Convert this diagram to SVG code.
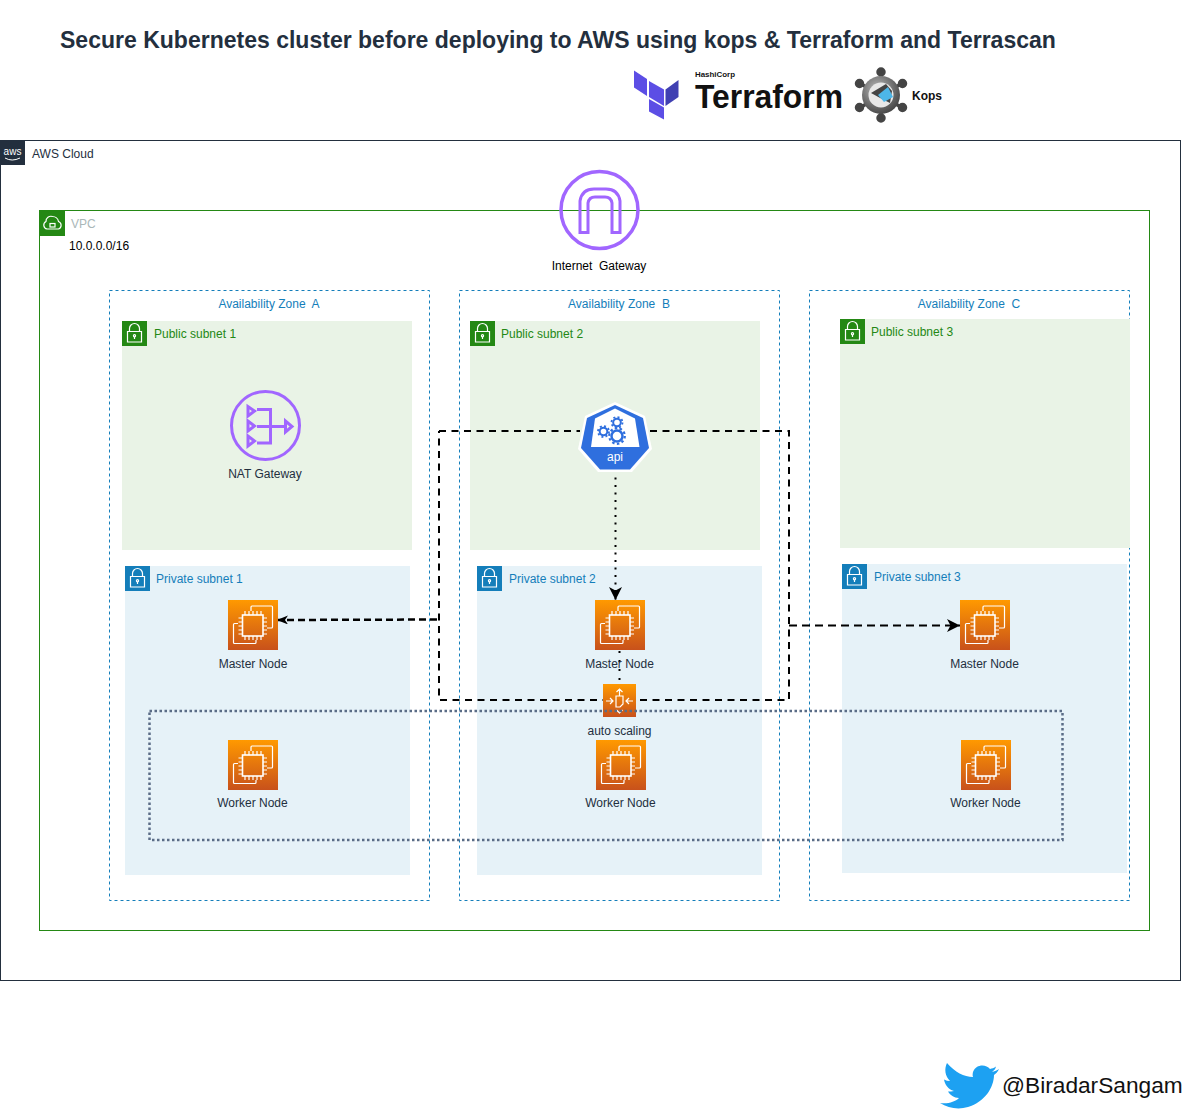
<svg xmlns="http://www.w3.org/2000/svg" width="1184" height="1111" viewBox="0 0 1184 1111">
<style>
text{font-family:"Liberation Sans",Arial,sans-serif;font-size:12px;fill:#232F3E;white-space:pre}
.c{text-anchor:middle}
.blue{fill:#147EBA}.green{fill:#248814}
.az{fill:none;stroke:#147EBA;stroke-dasharray:3 3}
.pub{fill:#E9F3E6}.pri{fill:#E6F2F8}
.ln{fill:none;stroke:#fff;stroke-width:1.2}
.pl{fill:none;stroke:#A166FF;stroke-width:3}
.dash{fill:none;stroke:#000;stroke-width:2;stroke-dasharray:7 5.500}
</style>
<defs>
<linearGradient id="o" x1="0" y1="1" x2="0" y2="0"><stop offset="0" stop-color="#C8511B"/><stop offset="1" stop-color="#F90"/></linearGradient>
<radialGradient id="m" cx="0.400" cy="0.350" r="0.800"><stop offset="0" stop-color="#bbb"/><stop offset="0.600" stop-color="#666"/><stop offset="1" stop-color="#333"/></radialGradient>
<marker id="ah" markerWidth="14" markerHeight="14" refX="13" refY="6.500" orient="auto" markerUnits="userSpaceOnUse"><path d="M0 0L13 6.500L0 13L3.500 6.500Z" fill="#000"/></marker>
<marker id="as" markerWidth="12" markerHeight="10" refX="11" refY="4.500" orient="auto" markerUnits="userSpaceOnUse"><path d="M0 0L11 4.500L0 9L3 4.500Z" fill="#000"/></marker>
<symbol id="ec2" viewBox="0 0 50 50" overflow="visible">
<rect width="50" height="50" fill="url(#o)"/>
<path class="ln" d="M23 11V7a1 1 0 0 1 1-1H43.500a1 1 0 0 1 1 1V27a1 1 0 0 1-1 1H39M10 23.500H6.500a1 1 0 0 0-1 1V42.500a1 1 0 0 0 1 1H27a1 1 0 0 0 1-1V40"/>
<rect x="14.500" y="15" width="20.500" height="21" fill="none" stroke="#fff" stroke-width="1.600"/>
<path class="ln" d="M17 11V15M21 11V15M25 11V15M29 11V15M33 11V15M17 36V40M21 36V40M25 36V40M29 36V40M33 36V40M10.500 18H14.500M10.500 22H14.500M10.500 26H14.500M10.500 30H14.500M10.500 34H14.500M35 18H39M35 22H39M35 26H39M35 30H39M35 34H39"/>
</symbol>
<symbol id="pubLock" viewBox="0 0 25 25" overflow="visible">
<rect width="25" height="25" fill="#248814"/>
<path class="ln" d="M7.500 10.500V7.500a5 5 0 0 1 10 0V10.500M5.500 10.500H19.500V21H5.500ZM12.500 18V15.500"/><circle class="ln" cx="12.500" cy="14.800" r="1.100"/>
</symbol>
<symbol id="priLock" viewBox="0 0 25 25" overflow="visible">
<rect width="25" height="25" fill="#147EBA"/>
<path class="ln" d="M7.500 10.500V7.500a5 5 0 0 1 10 0V10.500M5.500 10.500H19.500V21H5.500ZM12.500 18V15.500"/><circle class="ln" cx="12.500" cy="14.800" r="1.100"/>
</symbol>
</defs>

<g id="title"><text x="60" y="48" style="font-size:23.030px;font-weight:700;fill:#232F3E">Secure Kubernetes cluster before deploying to AWS using kops &amp; Terraform and Terrascan</text></g>

<g id="terraform-logo">
<path d="M634 70.500L647 79V96L634 87.500Z" fill="#5C4EE5"/>
<path d="M649 81L664 89.500V106L649 97Z" fill="#5C4EE5"/>
<path d="M665.500 89.500L678.500 80V97L665.500 106Z" fill="#4040B2"/>
<path d="M649 99L664 107.500V119.500L649 111.500Z" fill="#5C4EE5"/>
<text x="695" y="77" textLength="40" lengthAdjust="spacingAndGlyphs" style="font-size:8px;font-weight:700;fill:#111">HashiCorp</text>
<text x="695" y="108" textLength="148" lengthAdjust="spacingAndGlyphs" style="font-size:33px;font-weight:700;fill:#111">Terraform</text>
</g>
<g id="kops-logo">
<g stroke="#444" stroke-width="3.500" fill="#444"><path d="M881 73V117M861 84L901 107M901 84L861 107"/><circle cx="881" cy="72" r="3"/><circle cx="881" cy="118" r="3"/><circle cx="859.500" cy="83.500" r="3"/><circle cx="902.500" cy="83.500" r="3"/><circle cx="859.500" cy="107.500" r="3"/><circle cx="902.500" cy="107.500" r="3"/></g>
<circle cx="881" cy="95" r="19" fill="url(#m)"/><circle cx="881" cy="95" r="12.500" fill="#e8e8e8"/>
<path d="M871 93L886 84L892 91L890 103L882 99Z" fill="#444"/>
<path d="M878 95L888 87L893 97L884 102Z" fill="#4DB6E8"/>
<text x="912" y="100" style="font-size:12px;font-weight:700;fill:#111">Kops</text>
</g>

<g id="aws-cloud">
<rect x="0.500" y="140.500" width="1180" height="840" fill="none" stroke="#232F3E"/>
<rect y="140" width="25" height="25" fill="#232F3E"/>
<text x="12.500" y="155" class="c" style="font-size:10px;fill:#fff">aws</text>
<path d="M5 158Q12 162 20 158" fill="none" stroke="#fff"/>
<text x="32" y="158">AWS Cloud</text>
</g>

<g id="vpc">
<rect x="39.500" y="210.500" width="1110" height="720" fill="none" stroke="#248814"/>
<rect x="40" y="211" width="25" height="25" fill="#248814"/>
<path class="ln" d="M47 229a4 4 0 0 1-1-7.500a5 5 0 0 1 6.500-5a6 6 0 0 1 6 5a4 4 0 0 1 0 7.500Z"/><rect class="ln" x="50" y="223.500" width="5" height="3.500"/>
<text x="71" y="228" style="fill:#AAB7B8">VPC</text>
<text x="69" y="250" style="fill:#000">10.0.0.0/16</text>
</g>

<g id="az-a"><rect class="az" x="109.500" y="290.500" width="320" height="610"/><text x="269" y="308" class="c blue">Availability Zone  A</text></g>
<g id="az-b"><rect class="az" x="459.500" y="290.500" width="320" height="610"/><text x="619" y="308" class="c blue">Availability Zone  B</text></g>
<g id="az-c"><rect class="az" x="809.500" y="290.500" width="320" height="610"/><text x="969" y="308" class="c blue">Availability Zone  C</text></g>

<g id="public-subnet-1"><rect class="pub" x="122" y="321" width="290" height="229"/><use href="#pubLock" x="122" y="321" width="25" height="25"/><text x="154" y="338" class="green">Public subnet 1</text></g>
<g id="public-subnet-2"><rect class="pub" x="470" y="321" width="290" height="229"/><use href="#pubLock" x="470" y="321" width="25" height="25"/><text x="501" y="338" class="green">Public subnet 2</text></g>
<g id="public-subnet-3"><rect class="pub" x="840" y="319" width="290" height="229"/><use href="#pubLock" x="840" y="319" width="25" height="25"/><text x="871" y="336" class="green">Public subnet 3</text></g>
<g id="private-subnet-1"><rect class="pri" x="125" y="566" width="285" height="309"/><use href="#priLock" x="125" y="566" width="25" height="25"/><text x="156" y="583" class="blue">Private subnet 1</text></g>
<g id="private-subnet-2"><rect class="pri" x="477" y="566" width="285" height="309"/><use href="#priLock" x="477" y="566" width="25" height="25"/><text x="509" y="583" class="blue">Private subnet 2</text></g>
<g id="private-subnet-3"><rect class="pri" x="842" y="564" width="285" height="309"/><use href="#priLock" x="842" y="564" width="25" height="25"/><text x="874" y="581" class="blue">Private subnet 3</text></g>

<g id="internet-gateway">
<circle class="pl" cx="599.500" cy="210" r="38.500" style="stroke-width:3.500"/>
<path class="pl" d="M580 232.500V201Q582 189 594 189H606Q618 189 620 201V232.500H612V203Q611 197 605 197H595Q589 197 588 203V232.500Z"/>
<text x="599" y="270" class="c" style="fill:#000">Internet  Gateway</text>
</g>
<g id="nat-gateway">
<circle class="pl" cx="265.500" cy="425.500" r="34"/>
<path class="pl" d="M248 406.500V416L254.500 411ZM248 421V431L254.500 426ZM248 436V446L254.500 441ZM257 409.500H270.500V443H257M257 426.500H284M285.500 421V432L292 426.500Z"/>
<text x="265" y="478" class="c">NAT Gateway</text>
</g>

<g id="connectors">
<path class="dash" d="M439 431H580M650 431H789V700H439V431"/>
<path d="M437 619.500L277 620" fill="none" stroke="#000" stroke-width="2.500" stroke-dasharray="7 4" marker-end="url(#as)"/>
<path d="M789 625.500H960" fill="none" stroke="#000" stroke-width="2" stroke-dasharray="8 5" marker-end="url(#ah)"/>
<path d="M615.500 470V600" fill="none" stroke="#000" stroke-width="2" stroke-dasharray="2 5.500" marker-end="url(#ah)"/>
<path d="M619.500 651V684" fill="none" stroke="#000" stroke-width="2" stroke-dasharray="2 7"/>
</g>

<g id="master-node-1"><use href="#ec2" x="228" y="600" width="50" height="50"/><text x="253" y="668" class="c">Master Node</text></g>
<g id="master-node-2"><use href="#ec2" x="595" y="600" width="50" height="50"/><text x="619.500" y="668" class="c">Master Node</text></g>
<g id="master-node-3"><use href="#ec2" x="960" y="600" width="50" height="50"/><text x="984.500" y="668" class="c">Master Node</text></g>
<g id="worker-node-1"><use href="#ec2" x="228" y="740" width="50" height="50"/><text x="252.500" y="807" class="c">Worker Node</text></g>
<g id="worker-node-2"><use href="#ec2" x="596" y="740" width="50" height="50"/><text x="620.500" y="807" class="c">Worker Node</text></g>
<g id="worker-node-3"><use href="#ec2" x="961" y="740" width="50" height="50"/><text x="985.500" y="807" class="c">Worker Node</text></g>

<g id="auto-scaling">
<rect x="603" y="684" width="33" height="33" fill="url(#o)"/>
<path class="ln" d="M619.500 696V689M616.500 692L619.500 689L622.500 692M606 701H613M610 698L613 701L610 704M633 701H626M629 698L626 701L629 704M616 696H623V704L620 707H616ZM616.500 710L619.500 713L622.500 710"/>
<text x="619.500" y="735" class="c">auto scaling</text>
</g>

<g id="api-server">
<path d="M615 402L645 416L652 449L632 472H598L578 449L585 416Z" fill="#fff"/>
<path d="M615 405L643 418L649 448L630 469.500H600L581 448L587 418Z" fill="#2F6FDE"/>
<path d="M615 408.500L635 418.500L639.500 447H591L595 418.500Z" fill="#fff"/>
<g fill="none" stroke="#2F6FDE">
<circle cx="617" cy="422.500" r="3.800" stroke-width="2"/><circle cx="617" cy="422.500" r="5.500" stroke-width="1.800" stroke-dasharray="2 2.300"/>
<circle cx="603.500" cy="431.500" r="3.800" stroke-width="2"/><circle cx="603.500" cy="431.500" r="5.500" stroke-width="1.800" stroke-dasharray="2 2.300"/>
<circle cx="617" cy="436" r="5.500" stroke-width="2.500"/><circle cx="617" cy="436" r="7.800" stroke-width="2.200" stroke-dasharray="2.500 2.400"/>
</g>
<text x="615" y="460.500" class="c" style="fill:#fff">api</text>
</g>

<g id="connectors-overlay">
<rect x="149.500" y="711" width="913" height="129" fill="none" stroke="#5A6C86" stroke-width="2.500" stroke-dasharray="2.500 2.500"/>
</g>

<g id="twitter">
<path d="M999 1069C996 1071 994 1071.500 992 1072C994 1070.500 995.500 1069 996 1066.500C994 1068 992 1068.500 990 1069C986 1064 976 1064 973 1072C972.500 1074 972.500 1076 973 1077C964 1077 955 1072 947 1063C944 1069 945 1076 950 1081C948 1081 946 1080.500 944 1079.500C945 1085 948 1089 954 1091C952 1091.500 950 1091.500 948 1091.500C950 1095 954 1098 959 1098C955 1102 948 1104 940 1103C948 1108 958 1110 968 1107C985 1102 994 1087 994 1075C996 1073.500 998 1071.500 999 1069Z" fill="#1DA1F2"/>
<text x="1002" y="1092.500" style="font-size:22.700px;fill:#111">@BiradarSangam</text>
</g>
</svg>
